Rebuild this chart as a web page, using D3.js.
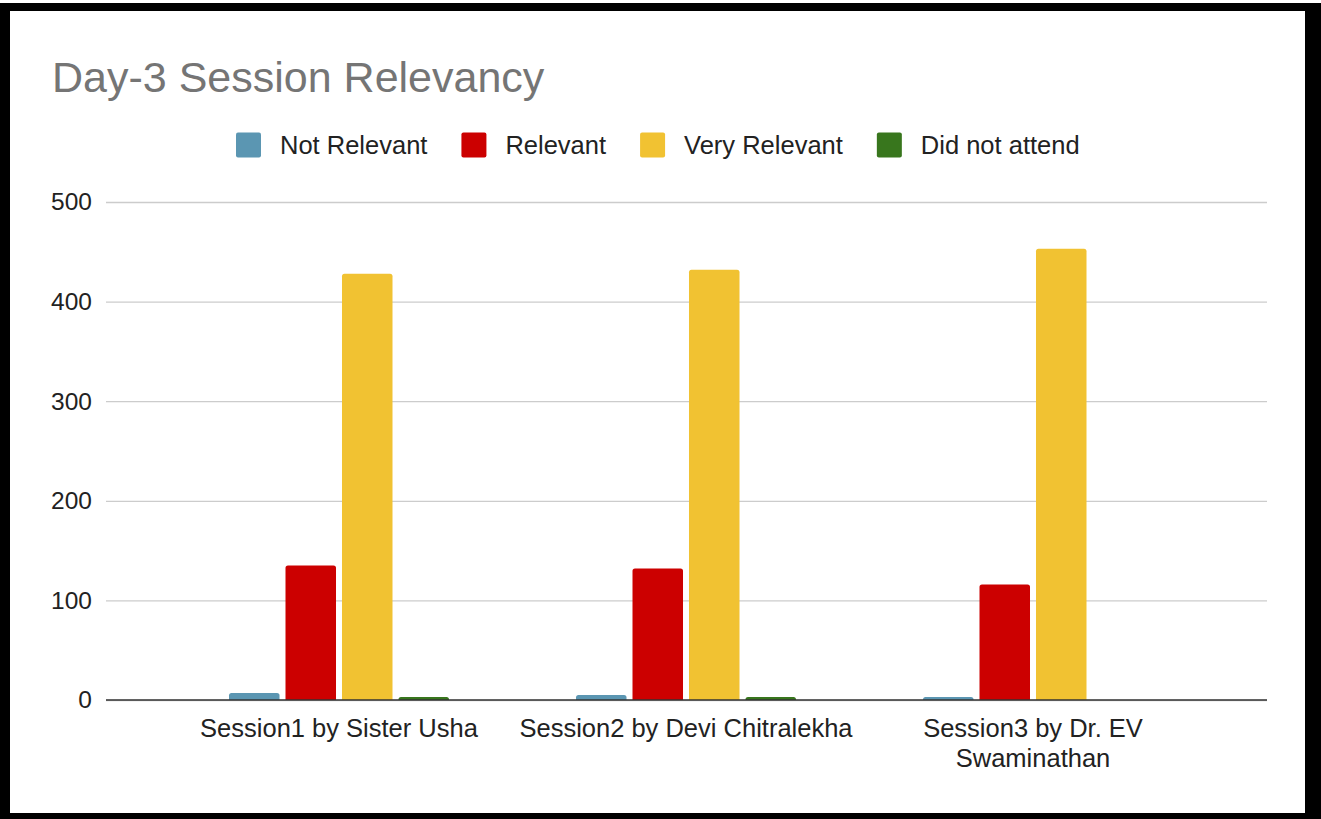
<!DOCTYPE html>
<html>
<head>
<meta charset="utf-8">
<script src="https://cdn.jsdelivr.net/npm/d3@7"></script>
<style>
  html, body { margin: 0; padding: 0; background: #fff; }
  svg { display: block; font-family: "Liberation Sans", Arial, sans-serif; }
</style>
</head>
<body>
<svg id="chart" width="1321" height="819"></svg>
<script>
const title = "Day-3 Session Relevancy";
const categories = ["Session1 by Sister Usha", "Session2 by Devi Chitralekha", "Session3 by Dr. EV Swaminathan"];
const seriesNames = ["Not Relevant", "Relevant", "Very Relevant", "Did not attend"];
const seriesColors = ["#5b96b2", "#cc0000", "#f1c232", "#38761d"];
const notRelevant = [7, 5, 3];
const relevant = [135, 132, 116];
const veryRelevant = [428, 432, 453];
const didNotAttend = [3, 3, 0];
const yTicks = [0, 100, 200, 300, 400, 500];

const seriesValues = [notRelevant, relevant, veryRelevant, didNotAttend];
const data = categories.map((c, i) => ({
  category: c,
  values: seriesNames.map((s, j) => ({ series: s, value: seriesValues[j][i], color: seriesColors[j] }))
}));

const svg = d3.select("#chart");

// frame
svg.append("rect").attr("x", 0).attr("y", 3).attr("width", 1321).attr("height", 816).attr("fill", "#000");
svg.append("rect").attr("x", 10).attr("y", 11).attr("width", 1295).attr("height", 802).attr("fill", "#fff");

// title
svg.append("text").attr("x", 52).attr("y", 92)
  .attr("font-size", 43).attr("fill", "#757575").text(title);

// scales
const plotLeft = 106, plotRight = 1267;
const y = d3.scaleLinear().domain([0, 500]).range([700, 202]);
const x0 = d3.scaleBand().domain(categories).range([165.5, 1206.5]);
const x1 = d3.scaleBand().domain(seriesNames).range([-110, 110]).paddingInner(0.106);

// y axis with gridlines
const yAxis = d3.axisLeft(y).tickValues(yTicks).tickFormat(d3.format("d"))
  .tickSizeInner(-(plotRight - plotLeft)).tickSizeOuter(0).tickPadding(14);
const gy = svg.append("g").attr("transform", `translate(${plotLeft},0)`).call(yAxis);
gy.select(".domain").remove();
gy.selectAll(".tick line").attr("stroke", "#cccccc").attr("stroke-width", 1.3);
gy.selectAll(".tick text").attr("font-size", 24.5).attr("fill", "#222").attr("font-family", "Liberation Sans, Arial, sans-serif");

// bars
const groups = svg.append("g").selectAll("g").data(data).join("g")
  .attr("transform", d => `translate(${x0(d.category) + x0.bandwidth() / 2},0)`);
groups.selectAll("path").data(d => d.values).join("path")
  .attr("fill", d => d.color)
  .attr("d", d => {
    const bx = x1(d.series), w = x1.bandwidth();
    const top = y(d.value), bottom = y(0);
    const h = bottom - top;
    if (h <= 0) return "";
    const r = Math.min(2.5, h);
    return `M${bx},${bottom}V${top + r}Q${bx},${top} ${bx + r},${top}H${bx + w - r}Q${bx + w},${top} ${bx + w},${top + r}V${bottom}Z`;
  });

// zero baseline
svg.append("line").attr("x1", plotLeft).attr("x2", plotRight)
  .attr("y1", y(0)).attr("y2", y(0)).attr("stroke", "#333").attr("stroke-width", 1.5);

// x axis labels
const xAxis = d3.axisBottom(x0).tickSize(0).tickPadding(0);
const gx = svg.append("g").attr("transform", `translate(0,${y(0)})`).call(xAxis);
gx.select(".domain").remove();
gx.selectAll(".tick text").each(function(d) {
  const t = d3.select(this);
  t.text(null).attr("font-size", 25.5).attr("fill", "#222").attr("y", 0).attr("dy", null)
    .attr("font-family", "Liberation Sans, Arial, sans-serif");
  const words = d.split(" ");
  let lines = [], line = [];
  const probe = t.append("tspan").attr("x", 0);
  words.forEach(w => {
    line.push(w);
    probe.text(line.join(" "));
    if (probe.node().getComputedTextLength() > 345 && line.length > 1) {
      line.pop();
      lines.push(line.join(" "));
      line = [w];
    }
  });
  lines.push(line.join(" "));
  probe.remove();
  lines.forEach((l, i) => {
    t.append("tspan").attr("x", 0).attr("y", 37 + i * 30).text(l);
  });
});

// legend
const legend = svg.append("g").attr("transform", "translate(0,145)");
let lx = 236;
seriesNames.forEach((s, i) => {
  const g = legend.append("g").attr("transform", `translate(${lx},0)`);
  g.append("rect").attr("x", 0).attr("y", -12.5).attr("width", 25).attr("height", 25)
    .attr("rx", 2).attr("fill", seriesColors[i]);
  const t = g.append("text").attr("x", 44).attr("y", 9).attr("font-size", 25.5)
    .attr("fill", "#222").text(s);
  const w = t.node().getComputedTextLength();
  lx += 44 + w + 34;
});
</script>
</body>
</html>
